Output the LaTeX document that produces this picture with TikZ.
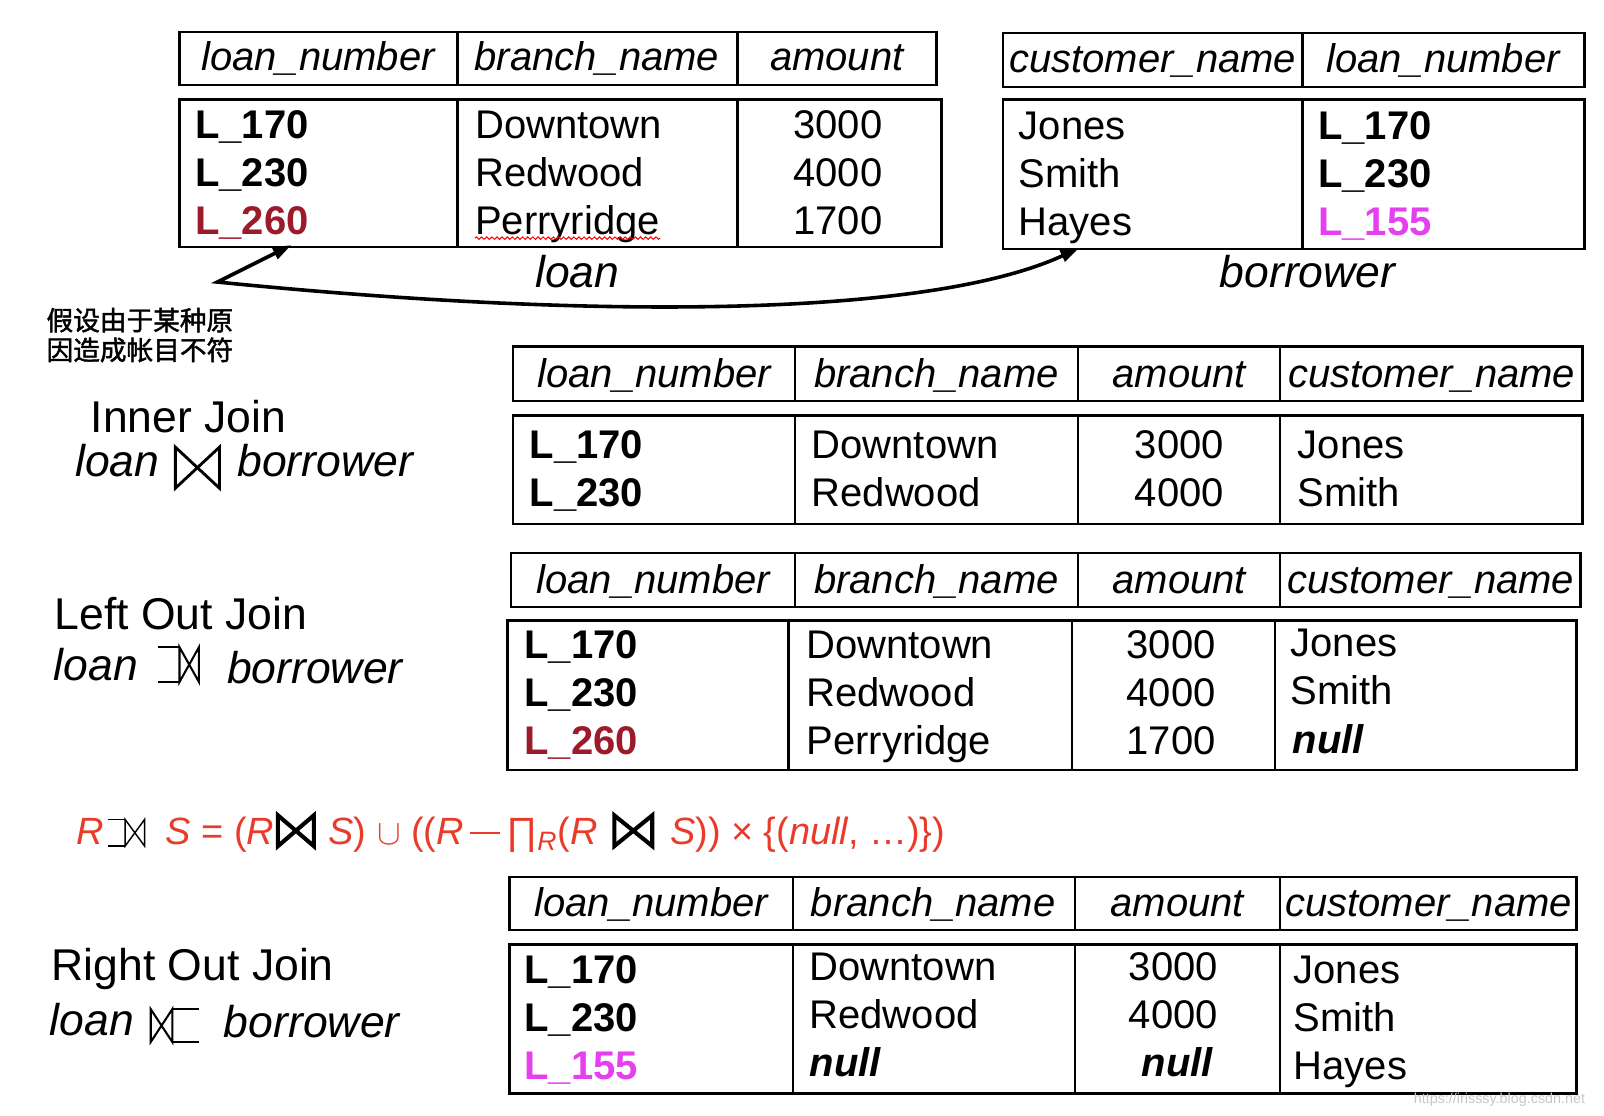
\documentclass[tikz,border=0pt]{standalone}
\usepackage{fontspec}
\setmainfont{Liberation Sans}
\newfontfamily\cjk{Noto Sans CJK SC}[FakeBold=1.6]
\usetikzlibrary{arrows.meta, decorations.pathmorphing}

\definecolor{lostred}{RGB}{155,27,42}
\definecolor{newpink}{RGB}{228,64,240}
\definecolor{formred}{RGB}{233,58,42}

% bowtie from (x1,y1) to (x2,y2)
\newcommand{\jointie}[5][]{\draw[jline, #1] (#2,#3) -- (#2,#5) -- (#4,#3) -- (#4,#5) -- cycle;}
% left outer join, tail starts at x0
\newcommand{\leftjoin}[6][]{\draw[jline, #1] (#2,#4) -- (#3,#4) (#2,#6) -- (#3,#6); \jointie[#1]{#3}{#4}{#5}{#6}}
% right outer join, tail ends at x3
\newcommand{\rightjoin}[6][]{\jointie[#1]{#2}{#3}{#4}{#5} \draw[jline, #1] (#4,#3) -- (#6,#3) (#4,#5) -- (#6,#5);}

\begin{document}
\begin{tikzpicture}[x=0.5pt, y=-0.5pt,
    tab/.style={line width=1.2pt},
    head/.style={anchor=base, inner sep=0pt, font=\fontsize{19.5pt}{23pt}\selectfont\itshape},
    cell/.style={anchor=base west, inner sep=0pt, font=\fontsize{19.5pt}{23pt}\selectfont},
    num/.style={cell, anchor=base},
    key/.style={cell, font=\fontsize{19.5pt}{23pt}\selectfont\bfseries},
    nul/.style={cell, font=\fontsize{19.5pt}{23pt}\selectfont\bfseries\itshape},
    title/.style={anchor=base west, inner sep=0pt, font=\fontsize{21.7pt}{26pt}\selectfont},
    rel/.style={title, font=\fontsize{21.7pt}{26pt}\selectfont\itshape},
    note/.style={anchor=base west, inner sep=0pt, font=\fontsize{13pt}{15pt}\cjk},
    form/.style={anchor=base west, inner sep=0pt, text=formred, font=\fontsize{18.5pt}{22pt}\selectfont},
    jline/.style={line width=1pt, line join=miter}]
  \useasboundingbox (0,0) rectangle (1564,1088);

  % loan
  \draw[tab] (175,31) rectangle (913,83) (446,31) -- (446,83) (719,31) -- (719,83);
  \node[head] (lh1) at (310,69) {loan\_number};
  \node[head] (lh2) at (582,69) {branch\_name};
  \node[head] (lh3) at (816,69) {amount};
  \draw[tab] (175,97) rectangle (918,241) (446,97) -- (446,241) (719,97) -- (719,241);
  \node[key] (l11) at (190,135) {L\_170};
  \node[cell] (l12) at (463,135) {Downtown};
  \node[num] (l13) at (817,135) {3000};
  \node[key] (l21) at (190,182) {L\_230};
  \node[cell] (l22) at (463,182) {Redwood};
  \node[num] (l23) at (817,182) {4000};
  \node[key, text=lostred] (l31) at (190,229) {L\_260};
  \node[cell] (l32) at (463,229) {Perryridge};
  \node[num] (l33) at (817,229) {1700};
  \draw[red, line width=0.5pt, decorate, decoration={snake, amplitude=0.6pt, segment length=2.5pt}]
    ([yshift=-1.6pt]l32.base west) -- ([yshift=-1.6pt]l32.base east);
  \node[rel, anchor=base] (loan) at (563,280) {loan};

  % borrower
  \draw[tab] (978,32) rectangle (1545,85) (1270,32) -- (1270,85);
  \node[head] (bh1) at (1124,71) {customer\_name};
  \node[head] (bh2) at (1407,71) {loan\_number};
  \draw[tab] (978,97) rectangle (1545,243) (1270,97) -- (1270,243);
  \node[cell] (b11) at (993,136) {Jones};
  \node[key] (b12) at (1285,136) {L\_170};
  \node[cell] (b21) at (993,183) {Smith};
  \node[key] (b22) at (1285,183) {L\_230};
  \node[cell] (b31) at (993,230) {Hayes};
  \node[key, text=newpink] (b32) at (1285,230) {L\_155};
  \node[rel, anchor=base] (borrower) at (1275,280) {borrower};

  % mismatch arrow
  \coordinate (lp) at (284,239);
  \coordinate (bend) at (212,275);
  \coordinate (bp) at (1052,242);
  \draw[line width=1.75pt, {Triangle[length=9pt,width=6pt]}-{Triangle[length=9pt,width=6pt]}]
    (lp) -- (bend) .. controls (560,310) and (900,312) .. (bp);
  \node[note] (note1) at (45,322) {假设由于某种原};
  \node[note] (note2) at (45,351) {因造成帐目不符};

  % inner join
  \node[title] (ijtitle) at (88,422) {Inner Join};
  \node[rel] (ijl) at (73,465) {loan};
  \jointie[line width=1.4pt]{171}{436}{214}{476}
  \node[rel] (ijr) at (231,465) {borrower};
  \draw[tab] (500,338) rectangle (1543,391) (775,338) -- (775,391) (1051,338) -- (1051,391) (1248,338) -- (1248,391);
  \node[head] (ih1) at (638,378) {loan\_number};
  \node[head] (ih2) at (913,378) {branch\_name};
  \node[head] (ih3) at (1150,378) {amount};
  \node[head] (ih4) at (1396,378) {customer\_name};
  \draw[tab] (500,405) rectangle (1543,511) (775,405) -- (775,511) (1051,405) -- (1051,511) (1248,405) -- (1248,511);
  \node[key] (i11) at (516,447) {L\_170};
  \node[cell] (i12) at (791,447) {Downtown};
  \node[num] (i13) at (1150,447) {3000};
  \node[cell] (i14) at (1265,447) {Jones};
  \node[key] (i21) at (516,494) {L\_230};
  \node[cell] (i22) at (791,494) {Redwood};
  \node[num] (i23) at (1150,494) {4000};
  \node[cell] (i24) at (1265,494) {Smith};

  % left outer join
  \node[title] (ljtitle) at (53,614) {Left Out Join};
  \node[rel] (ljl) at (52,664) {loan};
  \leftjoin{154}{175}{631}{194}{665}
  \node[rel] (ljr) at (221,666) {borrower};
  \draw[tab] (498,539) rectangle (1541,592) (775,539) -- (775,592) (1051,539) -- (1051,592) (1248,539) -- (1248,592);
  \node[head] (lj1) at (637,579) {loan\_number};
  \node[head] (lj2) at (913,579) {branch\_name};
  \node[head] (lj3) at (1150,579) {amount};
  \node[head] (lj4) at (1395,579) {customer\_name};
  \draw[tab] (495,605) rectangle (1537,751) (769,605) -- (769,751) (1045,605) -- (1045,751) (1243,605) -- (1243,751);
  \node[key] (o11) at (511,642) {L\_170};
  \node[cell] (o12) at (786,642) {Downtown};
  \node[num] (o13) at (1142,642) {3000};
  \node[cell] (o14) at (1258,640) {Jones};
  \node[key] (o21) at (511,689) {L\_230};
  \node[cell] (o22) at (786,689) {Redwood};
  \node[num] (o23) at (1142,689) {4000};
  \node[cell] (o24) at (1258,687) {Smith};
  \node[key, text=lostred] (o31) at (511,736) {L\_260};
  \node[cell] (o32) at (786,736) {Perryridge};
  \node[num] (o33) at (1142,736) {1700};
  \node[nul] (o34) at (1260,735) {null};

  % formula
  \node[form] (f1) at (74,823) {\textit{R}};
  \leftjoin[line width=0.7pt]{105}{122}{799}{141}{825}
  \node[form] (f2) at (161,823) {\textit{S} = (\textit{R}};
  \jointie[line width=2pt]{271}{795}{306}{825}
  \node[form] (f3) at (320,823) {\textit{S}) $\cup$ ((\textit{R}\,\rule[0.27em]{0.78em}{0.05em}\,∏\textsubscript{\textit{R}}(\textit{R}};
  \jointie[line width=2pt]{599}{795}{636}{825}
  \node[form] (f4) at (653,823) {\textit{S})) × \{(\textit{null}, …)\})};

  % right outer join
  \node[title] (rjtitle) at (50,956) {Right Out Join};
  \node[rel] (rjl) at (48,1010) {loan};
  \rightjoin{147}{984}{168}{1016}{194}
  \node[rel] (rjr) at (218,1012) {borrower};
  \draw[tab] (497,855) rectangle (1537,907) (773,855) -- (773,907) (1048,855) -- (1048,907) (1248,855) -- (1248,907);
  \node[head] (rh1) at (635,894) {loan\_number};
  \node[head] (rh2) at (910,894) {branch\_name};
  \node[head] (rh3) at (1148,894) {amount};
  \node[head] (rh4) at (1393,894) {customer\_name};
  \draw[tab] (497,921) rectangle (1537,1066) (773,921) -- (773,1066) (1048,921) -- (1048,1066) (1248,921) -- (1248,1066);
  \node[key] (r11) at (511,959) {L\_170};
  \node[cell] (r12) at (789,956) {Downtown};
  \node[num] (r13) at (1144,956) {3000};
  \node[cell] (r14) at (1261,959) {Jones};
  \node[key] (r21) at (511,1006) {L\_230};
  \node[cell] (r22) at (789,1003) {Redwood};
  \node[num] (r23) at (1144,1003) {4000};
  \node[cell] (r24) at (1261,1006) {Smith};
  \node[key, text=newpink] (r31) at (511,1053) {L\_155};
  \node[nul] (r32) at (789,1050) {null};
  \node[nul, anchor=base] (r33) at (1148,1050) {null};
  \node[cell] (r34) at (1261,1053) {Hayes};

  \node[anchor=base east, inner sep=0pt, text=black!22, font=\fontsize{7pt}{8pt}\selectfont] (mark) at (1546,1076) {https://irisssy.blog.csdn.net};
\end{tikzpicture}
\end{document}
